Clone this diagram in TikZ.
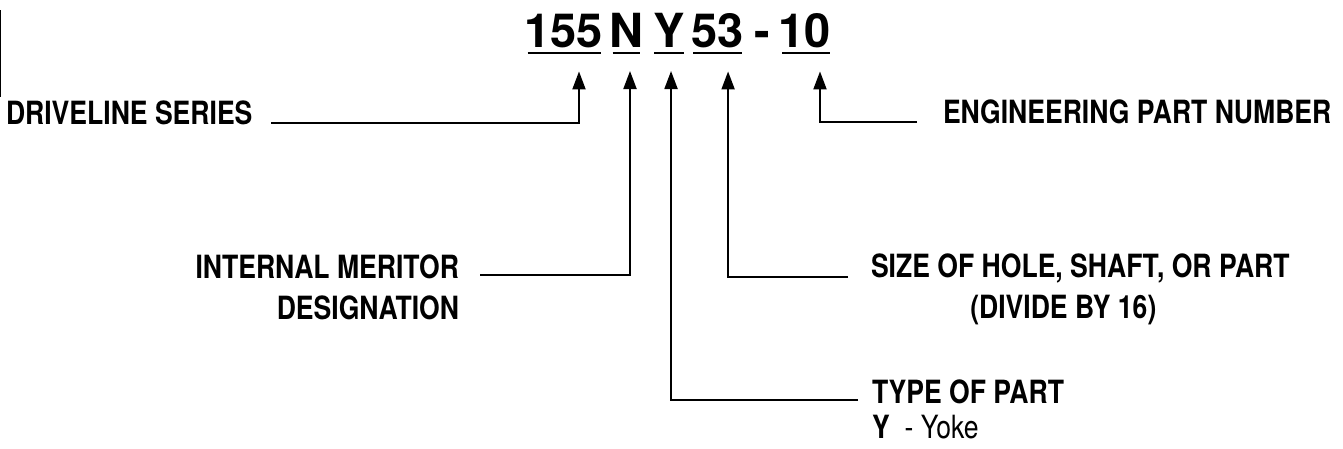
\documentclass[tikz,border=0pt]{standalone}
\usepackage{fontspec}
\setmainfont{TeX Gyre Heros}[FakeStretch=0.83]
\newfontfamily\codefont{TeX Gyre Heros}
\usepackage{xcolor}
\usepackage{tikz}
\usetikzlibrary{arrows.meta, positioning}

\begin{document}
\begin{tikzpicture}[
            x=1pt, y=-1pt,
            every node/.style={inner sep=0pt, outer sep=0pt},
            codebox/.style={font=\codefont\bfseries\fontsize{47}{56}\selectfont},
            labelbox/.style={font=\bfseries\fontsize{32}{38}\selectfont},
            notebox/.style={font=\fontsize{32}{38}\selectfont},
            uline/.style={line width=2.2pt},
            arrow/.style={-{Triangle[length=18pt, width=13pt]}, line width=2pt, shorten >=24pt}
        ]
        \useasboundingbox (0,0) rectangle (1343,448);
        \draw[line width=1pt] (0.5,10) -- (0.5,97);

        % --- 1. PART NUMBER ---
        \node[codebox, anchor=base west] (p155) at (524.5,47) {155};
        \node[codebox, base right=6.6pt of p155] (pN) {N};
        \node[codebox, base right=9.9pt of pN] (pY) {Y};
        \node[codebox, base right=7.1pt of pY] (p53) {53};
        \node[codebox, base right=10.5pt of p53] (pdash) {-};
        \node[codebox, base right=8.6pt of pdash] (p10) {10};

        % underlines, trimmed to the ink of each group
        \foreach \p/\l/\r in {p155/3.2/1.9, pN/3.2/3.2, pY/0.7/0.7, p53/1.3/1.9, p10/3.2/1.5}
            \draw[uline, shorten <=\l pt, shorten >=\r pt] ([yshift=-6pt]\p.base west) -- ([yshift=-6pt]\p.base east);

        % --- 2. TOP LABELS ---
        \node[labelbox, anchor=base west] (drv) at (6,124) {DRIVELINE SERIES};
        \node[labelbox, anchor=base west] (eng) at (943,123) {ENGINEERING PART NUMBER};

        % --- 3. MIDDLE LABELS ---
        \node[labelbox, anchor=base east] (imer) at (459,278) {INTERNAL MERITOR};
        \node[labelbox, below left=17pt and 0pt of imer.south east] (desig) {DESIGNATION};

        \node[labelbox, anchor=base west] (size) at (871,277) {SIZE OF HOLE, SHAFT, OR PART};
        \node[labelbox, below=12.8pt of size, xshift=-17pt] (divide) {(DIVIDE BY 16)};

        % --- 4. BOTTOM LABEL ---
        \node[labelbox, anchor=base west] (type) at (872,403) {TYPE OF PART};
        \node[notebox, below right=12pt and 0pt of type.south west] (yoke) {\textbf{Y}\hspace{15pt}- Yoke};

        % --- CONNECTORS ---
        \draw[arrow, shorten <=19pt] ([yshift=-1.5pt]drv.mid east) -| ([xshift=54.5pt]p155.south west);
        \draw[arrow, shorten <=21pt] (imer.mid east) -| ([xshift=20.5pt]pN.south west);
        \draw[arrow, shorten <=14pt] (type.mid west) -| ([xshift=17.7pt]pY.south west);
        \draw[arrow, shorten <=23pt] (size.base west) -| ([xshift=36.3pt]p53.south west);
        \draw[arrow, shorten <=26pt] ([yshift=-2pt]eng.mid west) -| ([xshift=41.2pt]p10.south west);

\end{tikzpicture}
\end{document}
